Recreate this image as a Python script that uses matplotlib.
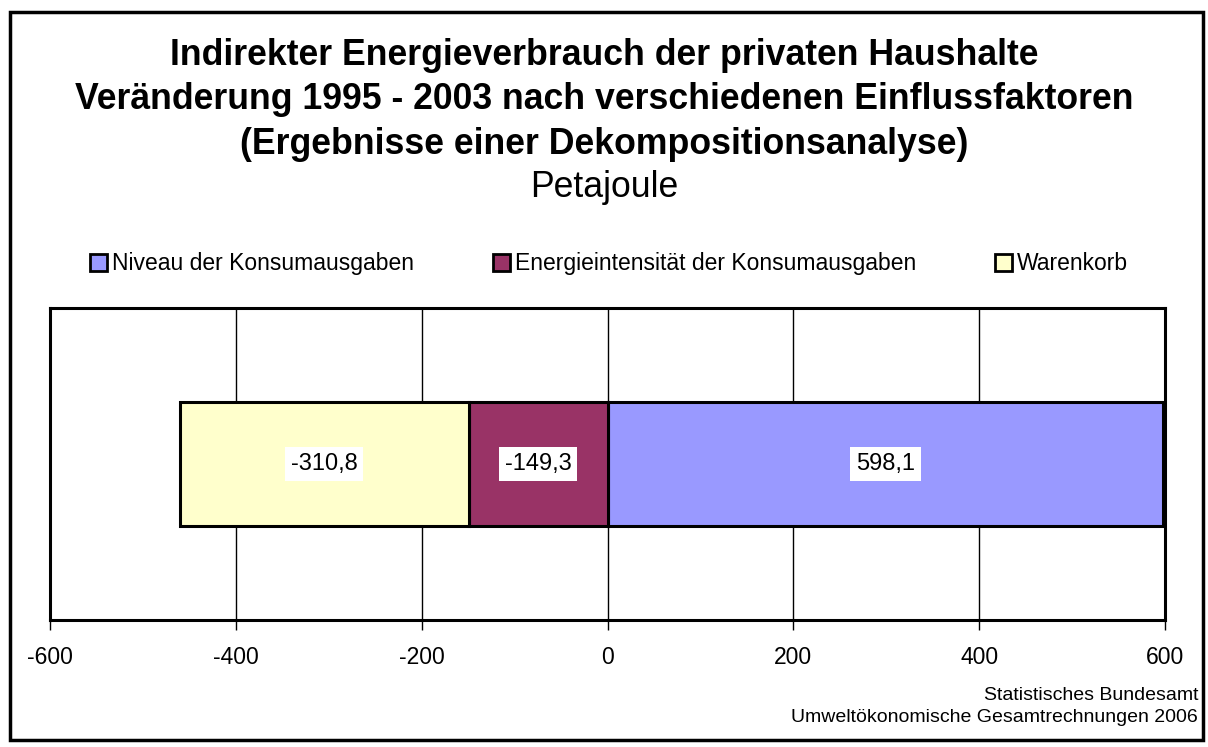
import matplotlib
matplotlib.use("Agg")
import matplotlib.pyplot as plt
from matplotlib.patches import Rectangle, Patch

plt.rcParams['font.family'] = ['Liberation Sans', 'DejaVu Sans']

series = ["Niveau der Konsumausgaben", "Energieintensität der Konsumausgaben", "Warenkorb"]
values = [598.1, -149.3, -310.8]
colors = ["#9999FF", "#993366", "#FFFFCC"]
labels = ["598,1", "-149,3", "-310,8"]
xticks = [-600, -400, -200, 0, 200, 400, 600]

W, H = 1208, 747
fig = plt.figure(figsize=(W/100, H/100), dpi=100)
ax = fig.add_axes([50/W, 1-620/H, (1165-50)/W, (620-308)/H])

pos_left = 0.0
neg_left = 0.0
for name, v, c, lab in zip(series, values, colors, labels):
    if v >= 0:
        left = pos_left
        pos_left += v
    else:
        left = neg_left + v
        neg_left += v
    ax.barh(0, abs(v), left=left, height=0.4, color=c,
            edgecolor='black', linewidth=2.2, zorder=3)
    ax.text(left + abs(v)/2, 0, lab, ha='center', va='center', fontsize=17,
            zorder=4, bbox=dict(facecolor='white', edgecolor='none', pad=4))

ax.set_xlim(-600, 600)
ax.set_ylim(-0.5, 0.5)
ax.set_xticks(xticks)
ax.set_xticklabels([str(t) for t in xticks], fontsize=16.5)
ax.set_yticks([])
ax.grid(axis='x', color='black', linewidth=1, zorder=0)
ax.set_axisbelow(True)
for s in ax.spines.values():
    s.set_linewidth(2.2)
ax.tick_params(axis='x', direction='out', length=7, width=1, pad=12)

title_lines = ["Indirekter Energieverbrauch der privaten Haushalte",
               "Veränderung 1995 - 2003 nach verschiedenen Einflussfaktoren",
               "(Ergebnisse einer Dekompositionsanalyse)"]
for yy, line in zip([65, 109, 154], title_lines):
    fig.text(0.5, 1-yy/H, line, ha='center', va='baseline', fontsize=25.7, fontweight='bold')
fig.text(0.5, 1-197/H, "Petajoule", ha='center', va='baseline', fontsize=25.7)

handles = [Patch(facecolor=c, edgecolor='black', linewidth=2) for c in colors]
fig.legend(handles, series, loc='center', bbox_to_anchor=(609/W, 1-264/H), ncol=3,
           frameon=False, fontsize=16.5, handlelength=0.75, handleheight=0.75,
           handletextpad=0.2, columnspacing=3.45)

fig.text(1198/W, 1-700/H, "Statistisches Bundesamt", ha='right', va='baseline', fontsize=14)
fig.text(1198/W, 1-722/H, "Umweltökonomische Gesamtrechnungen 2006", ha='right', va='baseline', fontsize=14)

fig.patches.append(Rectangle((9.5/W, 7.5/H), (1203-9.5)/W, (735.5-7.5)/H, transform=fig.transFigure,
                             fill=False, edgecolor='black', linewidth=2.5))

fig.savefig("out.png", dpi=100)
